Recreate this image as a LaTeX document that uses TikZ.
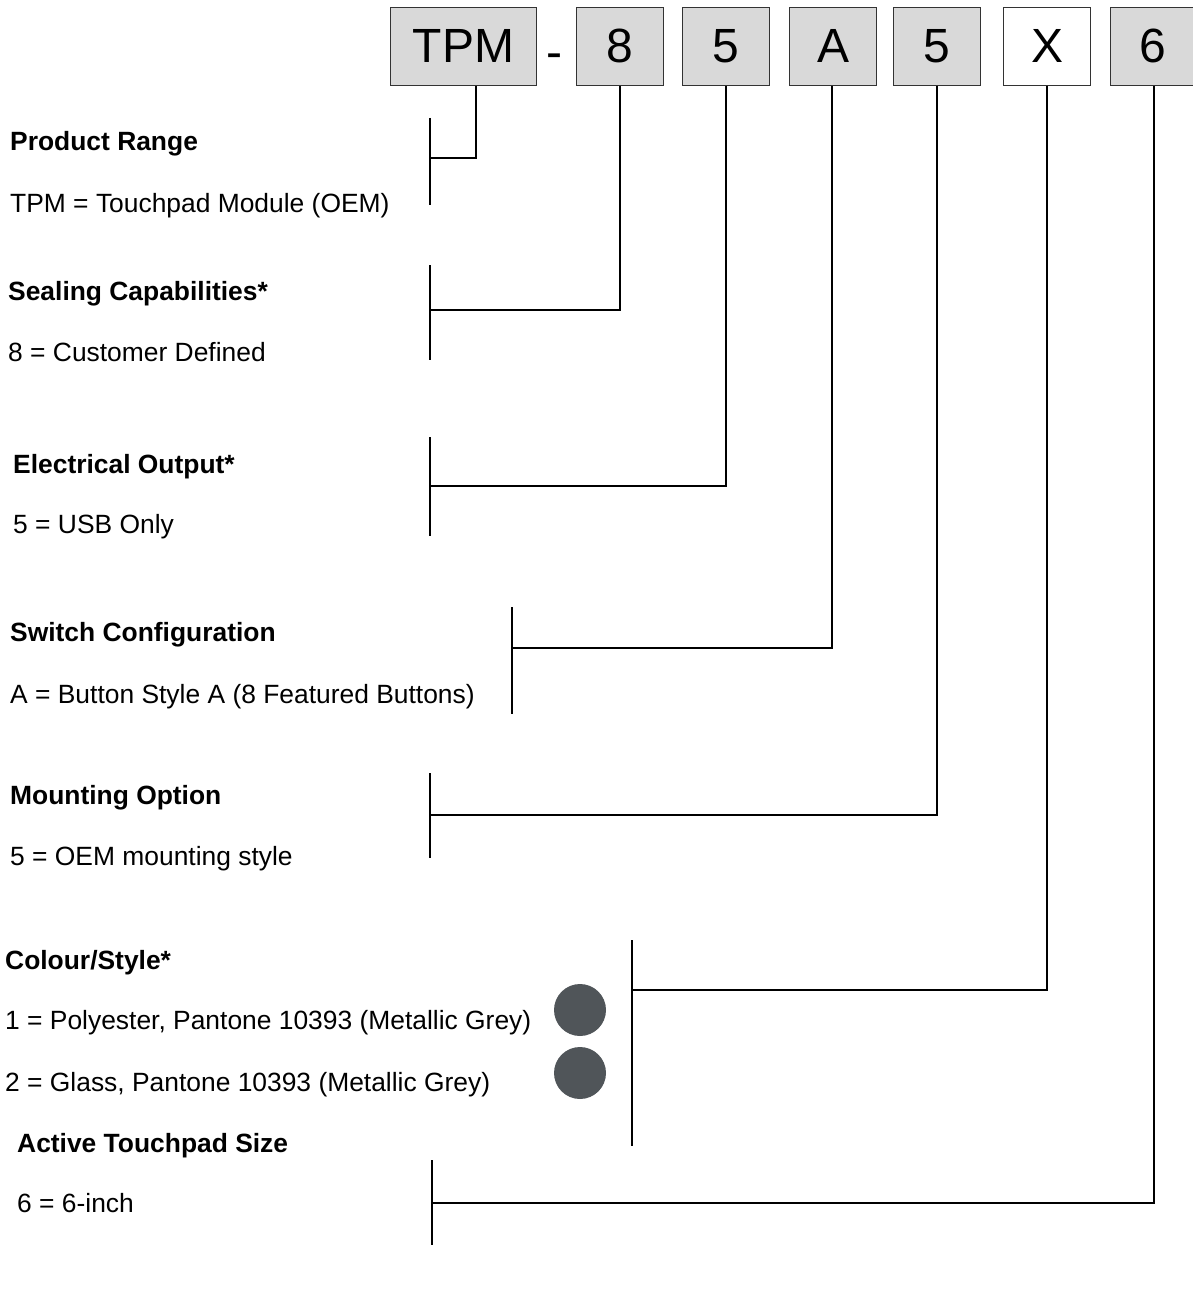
\documentclass[tikz,border=0pt]{standalone}
\usepackage{fontspec}
\setmainfont{Liberation Sans}
\begin{document}
\begin{tikzpicture}[x=1pt,y=-1pt,
  codebox/.style={draw=black!80, line width=1.3pt, fill=black!15, inner sep=0pt, anchor=north west, minimum height=78pt},
  whitebox/.style={codebox, fill=white},
  codetxt/.style={anchor=base, inner sep=0pt, font=\fontsize{48}{54}\selectfont},
  head/.style={anchor=base west, inner sep=0pt, font=\fontsize{26.4}{30}\selectfont\bfseries},
  desc/.style={anchor=base west, inner sep=0pt, font=\fontsize{26.4}{30}\selectfont},
  lead/.style={line width=1.4pt, black},
  swatch/.style={circle, fill=swatchgrey, minimum size=52pt, inner sep=0pt}
]
\definecolor{swatchgrey}{HTML}{505559}
\useasboundingbox (0,0) rectangle (1192,1297);

% code boxes
\node[codebox, minimum width=146pt] (tpm) at (390,7) {};
\node[codetxt] (ttpm) at (tpm.center |- 0,63) {TPM};
\node[codetxt] (dash) at (554,69) {-};
\node[codebox, minimum width=87pt] (c8) at (576,7) {};
\node[codetxt] (t8) at (c8.center |- 0,63) {8};
\node[codebox, minimum width=87pt] (c5a) at (682,7) {};
\node[codetxt] (t5a) at (c5a.center |- 0,63) {5};
\node[codebox, minimum width=87pt] (cA) at (789,7) {};
\node[codetxt] (tA) at (cA.center |- 0,63) {A};
\node[codebox, minimum width=87pt] (c5b) at (893,7) {};
\node[codetxt] (t5b) at (c5b.center |- 0,63) {5};
\node[whitebox, minimum width=87pt] (cX) at (1003,7) {};
\node[codetxt] (tX) at (cX.center |- 0,63) {X};
\node[codebox, minimum width=84pt] (c6) at (1110,7) {};
\node[codetxt] (t6) at (c6.center |- 0,63) {6};

% labels
\node[head] (h1) at (10,151) {Product Range};
\node[desc] (d1) at (10,213) {TPM = Touchpad Module (OEM)};
\node[head] (h2) at (8,300) {Sealing Capabilities*};
\node[desc] (d2) at (8,361) {8 = Customer Defined};
\node[head] (h3) at (13,473) {Electrical Output*};
\node[desc] (d3) at (13,533) {5 = USB Only};
\node[head] (h4) at (10,641) {Switch Configuration};
\node[desc] (d4) at (10,703) {A = Button Style A (8 Featured Buttons)};
\node[head] (h5) at (10,804) {Mounting Option};
\node[desc] (d5) at (10,865) {5 = OEM mounting style};
\node[head] (h6) at (5,969) {Colour/Style*};
\node[desc] (d6a) at (5,1029) {1 = Polyester, Pantone 10393 (Metallic Grey)};
\node[desc] (d6b) at (5,1091) {2 = Glass, Pantone 10393 (Metallic Grey)};
\node[head] (h7) at (17,1152) {Active Touchpad Size};
\node[desc] (d7) at (17,1212) {6 = 6-inch};

% swatches
\node[swatch] (sw1) at (580,1010) {};
\node[swatch] (sw2) at (580,1073) {};

% brackets
\coordinate (b1t) at (430,118); \coordinate (b1b) at (430,205); \coordinate (j1) at (430,158);
\coordinate (b2t) at (430,265); \coordinate (b2b) at (430,360); \coordinate (j2) at (430,310);
\coordinate (b3t) at (430,437); \coordinate (b3b) at (430,536); \coordinate (j3) at (430,486);
\coordinate (b4t) at (512,607); \coordinate (b4b) at (512,714); \coordinate (j4) at (512,648);
\coordinate (b5t) at (430,773); \coordinate (b5b) at (430,858); \coordinate (j5) at (430,815);
\coordinate (b6t) at (632,940); \coordinate (b6b) at (632,1146); \coordinate (j6) at (632,990);
\coordinate (b7t) at (432,1160); \coordinate (b7b) at (432,1245); \coordinate (j7) at (432,1203);

\foreach \i in {1,...,7} \draw[lead] (b\i t) -- (b\i b);

% leader lines
\draw[lead] (tpm.south -| 476,0) |- (j1);
\draw[lead] (c8.south -| 620,0) |- (j2);
\draw[lead] (c5a.south -| 726,0) |- (j3);
\draw[lead] (cA.south -| 832,0) |- (j4);
\draw[lead] (c5b.south -| 937,0) |- (j5);
\draw[lead] (cX.south -| 1047,0) |- (j6);
\draw[lead] (c6.south -| 1154,0) |- (j7);
\end{tikzpicture}
\end{document}
